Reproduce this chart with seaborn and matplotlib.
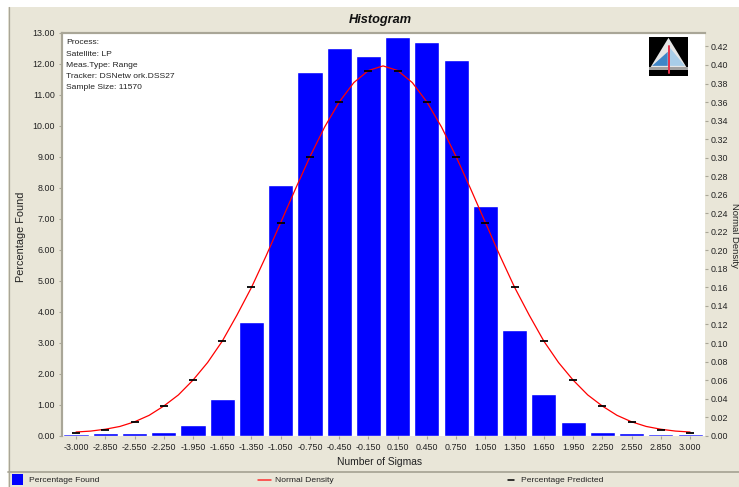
# Histogram of sigma bins with normal density overlay
import numpy as np
import pandas as pd
import seaborn as sns
import matplotlib.pyplot as plt
from matplotlib.patches import Rectangle, Polygon
from matplotlib.lines import Line2D

# Data
sigma_labels = ['-3.000', '-2.850', '-2.550', '-2.250', '-1.950', '-1.650', '-1.350', '-1.050',
                '-0.750', '-0.450', '-0.150', '0.150', '0.450', '0.750', '1.050', '1.350',
                '1.650', '1.950', '2.250', '2.550', '2.850', '3.000']
pct_found = [0.05, 0.10, 0.08, 0.13, 0.34, 1.20, 3.67, 8.10, 11.74, 12.51, 12.25,
             12.87, 12.70, 12.13, 7.40, 3.42, 1.35, 0.44, 0.13, 0.08, 0.04, 0.04]
pct_predicted = [0.003, 0.0065, 0.015, 0.032, 0.060, 0.102, 0.160, 0.230, 0.301, 0.360, 0.394,
                 0.394, 0.360, 0.301, 0.230, 0.160, 0.102, 0.060, 0.032, 0.015, 0.0065, 0.003]
# line read at every bin and half way between bins
density_curve = [0.004, 0.005, 0.007, 0.010, 0.015, 0.022, 0.032, 0.044, 0.060, 0.079, 0.102,
                 0.130, 0.160, 0.194, 0.230, 0.266, 0.301, 0.333, 0.360, 0.381, 0.394, 0.399,
                 0.394, 0.381, 0.360, 0.333, 0.301, 0.266, 0.230, 0.194, 0.160, 0.130, 0.102,
                 0.079, 0.060, 0.044, 0.032, 0.022, 0.015, 0.010, 0.007, 0.005, 0.004]
info_lines = ['Process:', 'Satellite: LP', 'Meas.Type: Range', 'Tracker: DSNetw ork.DSS27', 'Sample Size: 11570']

BEIGE = '#E9E6D8'
EDGE = '#A9A697'
TEXT = '#222222'

sns.set_theme(style='white')
plt.rcParams['font.family'] = ['Liberation Sans', 'DejaVu Sans']

W, H = 739, 487
fig = plt.figure(figsize=(W / 100, H / 100), dpi=100, facecolor='white')

# beige window behind the chart
fig.add_artist(Rectangle((8 / W, 0), (W - 8) / W, 1 - 7 / H, transform=fig.transFigure,
                         facecolor=BEIGE, edgecolor='none', zorder=-5))
fig.add_artist(Line2D([8.5 / W, 8.5 / W], [0, 1 - 7 / H], transform=fig.transFigure, color=EDGE, lw=0.9))
fig.add_artist(Line2D([8 / W, 1], [1 - 471.5 / H] * 2, transform=fig.transFigure, color=EDGE, lw=1.3))

ax = fig.add_axes([62 / W, 1 - 436 / H, (705 - 62) / W, (436 - 33) / H], facecolor='white')
df = pd.DataFrame({'sigma': sigma_labels, 'found': pct_found})
sns.barplot(data=df, x='sigma', y='found', color='#0000FF', saturation=1, width=0.86, ax=ax)
ax.set_xlim(-0.48, 21.51)
ax.set_ylim(-0.01, 13)
ax.set_yticks(np.arange(0, 14))
ax.set_yticklabels(['%.2f' % v for v in range(14)])
ax.set_xlabel('Number of Sigmas', fontsize=7.4, color=TEXT)
ax.set_ylabel('Percentage Found', fontsize=7.8, color=TEXT)
ax.xaxis.set_label_coords((380 - 62) / (705 - 62), -(462 - 436) / (436 - 33), transform=ax.transAxes)
ax.xaxis.label.set_verticalalignment('center')
ax.yaxis.set_label_coords(-(62 - 21) / (705 - 62), (436 - 237) / (436 - 33), transform=ax.transAxes)
ax.yaxis.label.set_verticalalignment('center')
ax.tick_params(axis='both', labelsize=6.4, labelcolor=TEXT, color=EDGE, length=2.5, width=0.8, pad=2.5, bottom=True, left=True)

ax2 = ax.twinx()
curve_x = [i / 2 for i in range(len(density_curve))]
sns.lineplot(x=curve_x, y=density_curve, color='#FF0000', lw=0.9, ax=ax2)
sns.scatterplot(x=list(range(len(pct_predicted))), y=pct_predicted, marker='_', color='black',
                s=26, linewidth=1.3, ax=ax2, zorder=5)
ax2.set_xlim(-0.48, 21.51)
ax2.set_ylim(-0.0003, 0.4345)
ax2.set_yticks(np.arange(0, 0.43, 0.02))
ax2.set_yticklabels(['%.2f' % (v * 0.02) for v in range(22)])
ax2.tick_params(axis='y', labelsize=6.4, labelcolor=TEXT, color=EDGE, length=2.5, width=0.8, pad=1.5, right=True)
ax2.set_ylabel('')

for a in (ax, ax2):
    for side in a.spines:
        a.spines[side].set_visible(False)
    a.spines['top'].set_visible(True)
    a.spines['left'].set_visible(True)
    a.spines['top'].set_color(EDGE)
    a.spines['left'].set_color(EDGE)
    a.spines['top'].set_linewidth(1.5)
    a.spines['left'].set_linewidth(1.5)

fig.text(380 / W, 1 - 19.5 / H, 'Histogram', fontsize=9.2, fontweight='bold', fontstyle='italic',
         color='#111111', ha='center', va='center')
fig.text(738.5 / W, 1 - 235 / H, 'Normal Density', fontsize=6.8, color=TEXT, rotation=-90,
         ha='right', va='center')

for i, line in enumerate(info_lines):
    fig.text(66 / W, 1 - (43 + i * 11.2) / H, line, fontsize=6.1, color=TEXT, ha='left', va='center')

# small logo top right
logo = fig.add_axes([649 / W, 1 - 76 / H, 39 / W, 39 / H], facecolor='black')
logo.set_xlim(0, 1)
logo.set_ylim(0, 1)
logo.set_xticks([])
logo.set_yticks([])
for side in logo.spines:
    logo.spines[side].set_visible(False)
logo.add_patch(Polygon([[0.0, 0.16], [0.5, 0.98], [1.0, 0.16]], facecolor='#E6E6E6', edgecolor='none'))
logo.add_patch(Polygon([[0.08, 0.26], [0.48, 0.62], [0.48, 0.26]], facecolor='#3F86C8', edgecolor='none'))
logo.add_patch(Polygon([[0.92, 0.26], [0.54, 0.72], [0.54, 0.26]], facecolor='#A8CDE8', edgecolor='none'))
logo.add_patch(Rectangle((0.0, 0.16), 1.0, 0.08, facecolor='#A0A0A0', edgecolor='none'))
logo.plot([0.5, 0.5], [0.08, 0.78], color='#E8304A', lw=1.4)

# legend strip
fig.add_artist(Rectangle((12 / W, 1 - 485 / H), 11 / W, 11 / H, transform=fig.transFigure,
                         facecolor='#0000FF', edgecolor='none'))
fig.text(29 / W, 1 - 480 / H, 'Percentage Found', fontsize=6.1, color=TEXT, va='center')
fig.add_artist(Line2D([258 / W, 271 / W], [1 - 480 / H] * 2, transform=fig.transFigure, color='#FF3030', lw=1.1))
fig.text(275 / W, 1 - 480 / H, 'Normal Density', fontsize=6.1, color=TEXT, va='center')
fig.add_artist(Line2D([508 / W, 514 / W], [1 - 480 / H] * 2, transform=fig.transFigure, color='black', lw=1.1))
fig.text(521 / W, 1 - 480 / H, 'Percentage Predicted', fontsize=6.1, color=TEXT, va='center')

fig.savefig('out.png', dpi=100, facecolor='white')
